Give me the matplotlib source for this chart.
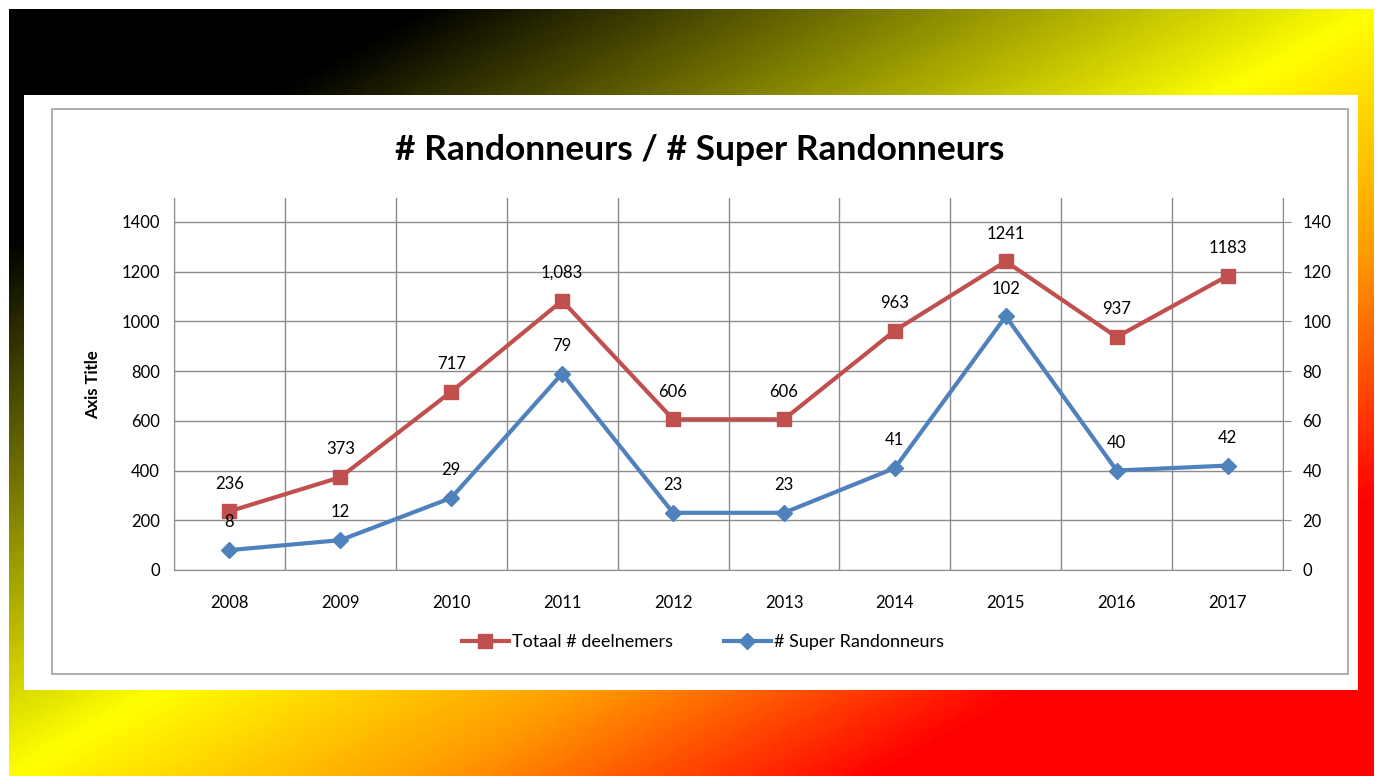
import numpy as np
import matplotlib.pyplot as plt
from matplotlib.colors import LinearSegmentedColormap
from matplotlib.patches import Rectangle

plt.rcParams['font.family'] = ['Lato', 'DejaVu Sans']

# Data
years = ['2008', '2009', '2010', '2011', '2012', '2013', '2014', '2015', '2016', '2017']
totaal = [236, 373, 717, 1083, 606, 606, 963, 1241, 937, 1183]
totaal_labels = ['236', '373', '717', '1,083', '606', '606', '963', '1241', '937', '1183']
super_r = [8, 12, 29, 79, 23, 23, 41, 102, 40, 42]

W, H = 1382, 784
fig = plt.figure(figsize=(W / 100, H / 100), dpi=100)
fig.patch.set_facecolor('white')

# Background slide with diagonal gradient
bg = fig.add_axes([0, 0, 1, 1])
bg.set_xlim(0, W)
bg.set_ylim(H, 0)
bg.axis('off')
u = np.linspace(0, 1, 400)
v = np.linspace(0, 1, 240)
U, V = np.meshgrid(u, v)
T = (U + V) / 2
cmap = LinearSegmentedColormap.from_list('slide', [
    (0.0, '#000000'), (0.15, '#000000'), (0.5, '#ffff00'),
    (0.66, '#ff9900'), (0.82, '#ff0000'), (1.0, '#ff0000')])
bg.imshow(T, cmap=cmap, extent=(9, 1374, 776, 9), aspect='auto', vmin=0, vmax=1)
bg.add_patch(Rectangle((24, 95), 1334, 595, facecolor='white', edgecolor='none'))
bg.add_patch(Rectangle((52, 109), 1296, 565, facecolor='none', edgecolor='#a0a0a0', lw=1.2))

red = '#c0504d'
blue = '#4f81bd'
grid = '#8c8c8c'

ax = fig.add_axes([174 / W, 1 - 570 / H, (1283 - 174) / W, (570 - 198) / H])
ax.patch.set_alpha(0)
x = np.arange(len(years))
ax.plot(x, totaal, color=red, lw=3, marker='s', markersize=10, zorder=5)
ax.set_xlim(-0.5, len(years) - 0.5)
ax.set_ylim(0, 1496)
ax.set_yticks(range(0, 1401, 200))
ax.set_xticks(x)
ax.set_xticklabels(years)
ax.set_xticks(np.arange(-0.5, len(years)), minor=True)
ax.grid(True, which='minor', axis='x', color=grid, lw=1)
ax.grid(True, which='major', axis='y', color=grid, lw=1)
ax.tick_params(axis='x', which='both', length=0, pad=18, labelsize=12)
ax.tick_params(axis='y', length=0, pad=10, labelsize=12)
for s in ['top', 'right']:
    ax.spines[s].set_visible(False)
ax.spines['left'].set_color(grid)
ax.spines['bottom'].set_color(grid)
for xi, yi, lab in zip(x, totaal, totaal_labels):
    ax.annotate(lab, (xi, yi), xytext=(0, 20), textcoords='offset points',
                ha='center', va='center', fontsize=12)

ax2 = ax.twinx()
ax2.plot(x, super_r, color=blue, lw=3, marker='D', markersize=8, zorder=5)
ax2.set_ylim(0, 149.6)
ax2.set_yticks(range(0, 141, 20))
ax2.tick_params(axis='y', length=6, color=grid, pad=8, labelsize=12)
for s in ['top', 'left', 'bottom']:
    ax2.spines[s].set_visible(False)
ax2.spines['right'].set_color(grid)
for xi, yi in zip(x, super_r):
    ax2.annotate(str(yi), (xi, yi), xytext=(0, 20), textcoords='offset points',
                 ha='center', va='center', fontsize=12)

fig.text(700 / W, 1 - 150 / H, '# Randonneurs / # Super Randonneurs',
         ha='center', va='center', fontsize=25.5, fontweight='bold')
fig.text(93 / W, 1 - 385 / H, 'Axis Title', ha='center', va='center',
         rotation=90, fontsize=12, fontweight='bold')

h1, = ax.plot([], [], color=red, lw=3, marker='s', markersize=10)
h2, = ax.plot([], [], color=blue, lw=3, marker='D', markersize=8)
fig.legend([h1, h2], ['Totaal # deelnemers', '# Super Randonneurs'],
           loc='center', bbox_to_anchor=(703 / W, 1 - 642 / H), ncol=2,
           frameon=False, fontsize=13, handlelength=2.6, handletextpad=0.2,
           columnspacing=2.8)

fig.savefig('out.png', dpi=100)
